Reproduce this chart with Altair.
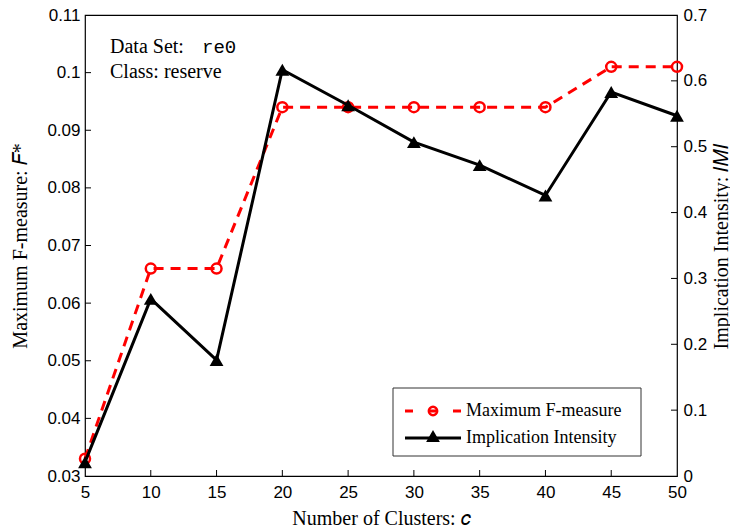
import altair as alt
import pandas as pd

clusters = [5, 10, 15, 20, 25, 30, 35, 40, 45, 50]
fmeasure = [0.033, 0.066, 0.066, 0.094, 0.094, 0.094, 0.094, 0.094, 0.101, 0.101]
imi = [0.021, 0.269, 0.176, 0.617, 0.563, 0.507, 0.472, 0.426, 0.583, 0.547]

x_ticks_inner = [10, 15, 20, 25, 30, 35, 40, 45]
left_ticks = [0.04, 0.05, 0.06, 0.07, 0.08, 0.09, 0.1]
right_ticks = [0.1, 0.2, 0.3, 0.4, 0.5, 0.6]

W, H = 592, 461
SERIF = "Liberation Serif"
SANS = "Liberation Sans"
TFS = 20
LFS = 17

df = pd.DataFrame({"c": clusters, "f": fmeasure, "imi": imi})

xs = alt.Scale(domain=[5, 50], nice=False, zero=False)
ys_left = alt.Scale(domain=[0.03, 0.11], nice=False, zero=False)
ys_right = alt.Scale(domain=[0, 0.7], nice=False, zero=False)

x_axis = alt.Axis(values=clusters, title="Number of Clusters: 𝑐", titleFont=SERIF,
                  titleFontSize=TFS, titleFontWeight="normal", titleColor="black",
                  labelFont=SANS, labelFontSize=LFS, labelColor="black", labelPadding=8,
                  tickSize=0, domain=False, grid=False, titlePadding=8, labelFlush=False,
                  format="~g")

base = alt.Chart(df)

f_line = base.mark_line(color="#ff0000", strokeWidth=3, strokeDash=[10, 7]).encode(
    x=alt.X("c:Q", scale=xs, axis=x_axis),
    y=alt.Y("f:Q", scale=ys_left,
            axis=alt.Axis(values=[0.03, 0.04, 0.05, 0.06, 0.07, 0.08, 0.09, 0.1, 0.11],
                          title="Maximum F-measure: 𝐹*", titleFont=SERIF, titleFontSize=TFS,
                          titleFontWeight="normal", titleColor="black", labelFont=SANS,
                          labelFontSize=LFS, labelColor="black", tickSize=0, domain=False,
                          grid=False, labelPadding=5, orient="left",
                          titleX=-65, titleY=H / 2, titleAngle=270, titleAlign="center",
                          titleBaseline="middle",
                          labelFlush=False, format="~g")),
)
f_pts = base.mark_point(shape="circle", color="#ff0000", strokeWidth=2.5, size=100, filled=False, opacity=1).encode(
    x=alt.X("c:Q", scale=xs), y=alt.Y("f:Q", scale=ys_left)
)
lt_df = pd.DataFrame({"v": left_ticks})
left_tk = alt.Chart(lt_df).mark_rule(color="black", strokeWidth=1).encode(
    y=alt.Y("v:Q", scale=ys_left), x=alt.value(0), x2=alt.value(6)
)
xt_df = pd.DataFrame({"v": x_ticks_inner})
x_tk = alt.Chart(xt_df).mark_rule(color="black", strokeWidth=1).encode(
    x=alt.X("v:Q", scale=xs), y=alt.value(H), y2=alt.value(H - 6)
)

annot1 = alt.Chart(pd.DataFrame({"t": ["Data Set:"]})).mark_text(
    font=SERIF, fontSize=20, align="left", baseline="middle", color="black"
).encode(x=alt.value(25), y=alt.value(32), text="t:N")
annot1b = alt.Chart(pd.DataFrame({"t": ["re0"]})).mark_text(
    font="Liberation Mono", fontSize=19, align="left", baseline="middle", color="black"
).encode(x=alt.value(117), y=alt.value(32), text="t:N")
annot2 = alt.Chart(pd.DataFrame({"t": ["Class: reserve"]})).mark_text(
    font=SERIF, fontSize=20, align="left", baseline="middle", color="black"
).encode(x=alt.value(25), y=alt.value(57), text="t:N")

left_layer = alt.layer(f_line, f_pts, left_tk, x_tk, annot1, annot1b, annot2)

i_line = base.mark_line(color="black", strokeWidth=3).encode(
    x=alt.X("c:Q", scale=xs),
    y=alt.Y("imi:Q", scale=ys_right,
            axis=alt.Axis(values=[0, 0.1, 0.2, 0.3, 0.4, 0.5, 0.6, 0.7],
                          title="Implication Intensity: 𝐼𝑀𝐼", titleFont=SERIF, titleFontSize=TFS,
                          titleFontWeight="normal", titleColor="black", labelFont=SANS,
                          labelFontSize=LFS, labelColor="black", tickSize=0, domain=False,
                          grid=False, labelPadding=6, orient="right",
                          titleX=44, titleY=H / 2, titleAngle=270, titleAlign="center",
                          titleBaseline="middle",
                          labelFlush=False, format="~g")),
)
i_pts = base.mark_point(shape="triangle-up", color="black", filled=True, size=190, opacity=1).encode(
    x=alt.X("c:Q", scale=xs), y=alt.Y("imi:Q", scale=ys_right)
)
rt_df = pd.DataFrame({"v": right_ticks})
right_tk = alt.Chart(rt_df).mark_rule(color="black", strokeWidth=1).encode(
    y=alt.Y("v:Q", scale=ys_right), x=alt.value(W - 6), x2=alt.value(W)
)

# legend (decoration)
LX0, LY0, LX1, LY1 = 308, 373, 556, 441
leg_box = alt.Chart(pd.DataFrame({"a": [0]})).mark_rect(
    fill="white", stroke="#333333", strokeWidth=1
).encode(x=alt.value(LX0), x2=alt.value(LX1), y=alt.value(LY0), y2=alt.value(LY1))
leg_l1 = alt.Chart(pd.DataFrame({"a": [0]})).mark_rule(
    color="#ff0000", strokeWidth=3, strokeDash=[8, 16]
).encode(x=alt.value(320), x2=alt.value(376), y=alt.value(396), y2=alt.value(396))
leg_p1 = alt.Chart(pd.DataFrame({"a": [0]})).mark_point(
    shape="circle", color="#ff0000", strokeWidth=2.5, size=70, filled=False, opacity=1
).encode(x=alt.value(348), y=alt.value(396))
leg_l2 = alt.Chart(pd.DataFrame({"a": [0]})).mark_rule(
    color="black", strokeWidth=3
).encode(x=alt.value(320), x2=alt.value(376), y=alt.value(423), y2=alt.value(423))
leg_p2 = alt.Chart(pd.DataFrame({"a": [0]})).mark_point(
    shape="triangle-up", color="black", filled=True, size=190, opacity=1
).encode(x=alt.value(348), y=alt.value(421))
leg_t = alt.Chart(pd.DataFrame({"t": ["Maximum F-measure", "Implication Intensity"],
                                "yy": [396, 423]})).mark_text(
    font=SERIF, fontSize=18, align="left", baseline="middle", color="black"
).encode(x=alt.value(381), y=alt.Y("yy:Q", scale=None), text="t:N")

right_layer = alt.layer(i_line, i_pts, right_tk, leg_box, leg_l1, leg_p1, leg_l2, leg_p2, leg_t)

chart = alt.layer(left_layer, right_layer).resolve_scale(y="independent").properties(
    width=W, height=H,
    autosize=alt.AutoSizeParams(type="none"),
    padding={"left": 85, "top": 15, "right": 53, "bottom": 55},
    background="white",
).configure_view(stroke="black", strokeWidth=1.2)

chart.save("out.html", embed_options={"renderer": "svg", "actions": False})
